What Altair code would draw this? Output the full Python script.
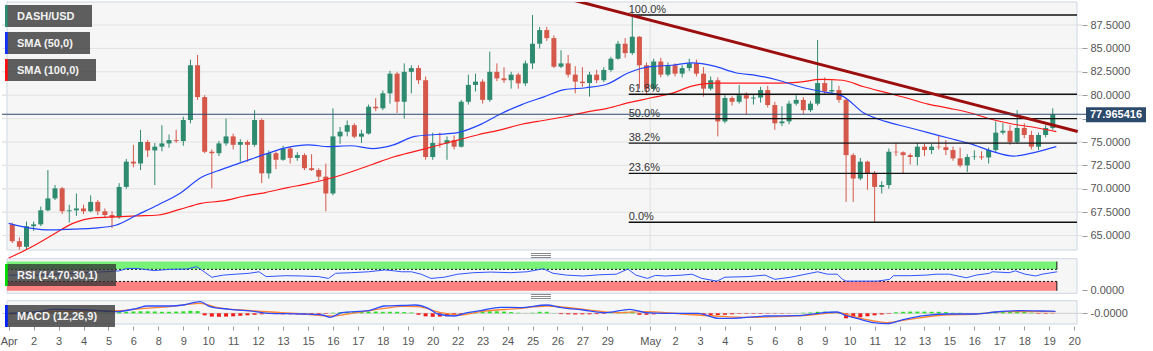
import altair as alt
import pandas as pd

# ---------------- data ----------------
first_open = 66.2
bar_hours = 8  # one candle every 8 hours, hours counted from Apr 1 00:00

close = [64.4, 63.8, 66.0, 66.2, 67.7, 68.97, 70.05, 67.6, 67.7, 67.9,
         67.6, 68.6, 67.6, 67.2, 66.95, 70.2, 72.9, 72.7, 75.0, 74.1,
         74.5, 74.85, 75.2, 75.1, 77.35, 83.2, 79.8, 73.96, 73.8, 74.85,
         75.6, 74.7, 75.0, 74.7, 77.35, 71.65, 73.8, 73.1, 74.3, 73.3,
         73.6, 72.2, 72.0, 71.3, 69.5, 75.6, 76.1, 76.8, 75.57, 75.9,
         78.77, 78.6, 80.2, 82.3, 79.3, 82.5, 82.9, 81.6, 73.4, 74.9,
         74.85, 75.2, 74.5, 79.3, 81.1, 81.45, 79.5, 82.5, 81.8, 81.6,
         82.2, 81.27, 83.4, 85.5, 86.96, 86.1, 83.05, 83.4, 82.2, 81.45,
         81.3, 82.2, 81.6, 82.7, 83.9, 85.5, 84.5, 86.25, 83.2, 80.7,
         83.6, 82.2, 83.2, 82.3, 82.9, 83.4, 82.3, 80.7, 81.6, 77.2,
         79.7, 79.3, 80.0, 79.65, 79.75, 80.55, 78.95, 77.0, 77.2, 79.1,
         79.5, 78.4, 79.1, 81.3, 80.4, 80.55, 79.5, 73.6, 71.1, 72.9,
         71.65, 70.2, 70.4, 73.96, 73.9, 73.6, 73.4, 74.5, 74.14, 74.5,
         74.45, 74.14, 73.25, 72.5, 73.4, 73.45, 73.35, 74.14, 76.0, 76.2,
         75.0, 76.5, 75.75, 74.5, 75.75, 76.5, 77.97]

high = [66.4, 64.8, 66.5, 66.5, 68.1, 72.0, 70.4, 70.2, 68.3, 69.5,
        68.3, 69.3, 68.8, 67.9, 67.6, 70.6, 73.2, 74.7, 76.3, 75.2,
        74.9, 76.8, 75.8, 76.3, 77.7, 83.8, 84.3, 80.0, 74.2, 75.1,
        77.5, 75.9, 75.3, 75.2, 78.4, 77.5, 74.1, 74.0, 74.6, 74.5,
        73.9, 73.8, 73.7, 72.2, 72.7, 78.6, 76.6, 77.3, 77.0, 76.3,
        79.0, 79.7, 80.5, 82.6, 82.5, 83.4, 83.2, 83.2, 82.0, 76.0,
        76.0, 75.6, 75.7, 79.5, 82.2, 82.3, 81.7, 84.65, 83.4, 83.0,
        82.5, 82.4, 83.7, 88.57, 87.3, 87.3, 86.4, 84.8, 84.3, 83.1,
        83.0, 82.5, 82.7, 83.0, 84.1, 85.8, 86.1, 88.75, 86.3, 83.5,
        83.9, 84.0, 83.5, 83.4, 83.2, 83.9, 83.8, 83.0, 82.0, 81.9,
        80.0, 79.9, 81.1, 80.3, 80.1, 80.9, 81.0, 79.3, 78.8, 79.4,
        80.0, 79.8, 79.4, 85.9, 81.9, 81.6, 81.0, 79.7, 73.8, 73.3,
        73.0, 71.9, 70.8, 74.3, 74.9, 74.0, 73.8, 74.9, 74.8, 74.8,
        75.75, 75.2, 74.5, 74.4, 73.7, 74.1, 74.0, 74.4, 77.2, 77.0,
        76.8, 78.4, 77.0, 76.2, 76.0, 76.8, 78.6]

low = [64.2, 63.5, 63.5, 65.5, 66.0, 67.6, 68.8, 67.3, 66.4, 67.1,
       67.3, 67.5, 67.2, 66.9, 65.8, 66.8, 70.0, 72.3, 72.0, 73.4,
       70.4, 74.0, 74.4, 74.9, 74.6, 77.0, 79.5, 73.8, 70.05, 73.5,
       74.6, 74.2, 72.9, 72.9, 74.5, 70.6, 71.1, 72.1, 73.0, 72.7,
       73.0, 72.0, 71.9, 70.9, 67.6, 69.3, 74.8, 75.6, 75.4, 74.9,
       75.8, 78.3, 78.4, 79.1, 78.1, 77.5, 80.2, 81.2, 73.1, 73.1,
       74.4, 73.1, 74.2, 74.4, 79.0, 80.4, 79.1, 79.3, 81.5, 81.3,
       80.7, 80.7, 81.0, 82.8, 85.0, 85.8, 82.9, 82.9, 81.9, 80.2,
       80.9, 79.85, 81.3, 81.4, 82.5, 83.8, 84.0, 84.3, 80.7, 80.0,
       80.5, 81.9, 82.0, 82.0, 81.9, 82.6, 82.0, 79.85, 80.5, 75.6,
       77.0, 78.9, 79.1, 77.9, 79.0, 79.2, 78.7, 76.3, 76.7, 76.9,
       78.9, 78.0, 78.2, 78.9, 80.1, 80.2, 79.2, 68.6, 68.6, 70.9,
       69.9, 66.35, 69.5, 70.0, 73.5, 71.65, 72.6, 72.5, 73.5, 73.7,
       74.2, 73.6, 73.0, 72.3, 71.8, 73.1, 73.1, 72.7, 73.9, 75.8,
       74.7, 74.8, 75.4, 74.2, 74.14, 75.5, 76.3]

# moving averages, one reading per day (day 0 = Apr 1)
sma50 = [66.3, 65.8, 65.6, 65.7, 65.8, 66.1, 67.2, 68.3, 69.5, 71.2,
         72.1, 72.9, 73.7, 74.4, 74.7, 74.5, 74.6, 74.3, 74.7, 75.6,
         75.8, 76.0, 76.8, 78.0, 79.0, 79.8, 80.6, 80.8, 81.2, 82.4,
         83.05, 83.2, 83.45, 83.1, 82.4, 82.1, 81.6, 80.9, 80.4, 79.9,
         78.1, 77.2, 76.6, 76.0, 75.4, 74.8, 74.0, 73.5, 73.9, 74.5]
sma100 = [62.6, 63.7, 65.0, 66.3, 66.9, 67.0, 67.1, 67.2, 67.8, 68.45,
          68.7, 69.2, 69.6, 70.1, 70.55, 71.1, 71.8, 72.6, 73.4, 74.0,
          74.6, 75.2, 75.8, 76.3, 76.9, 77.3, 77.7, 78.2, 78.6, 79.2,
          79.7, 80.2, 81.0, 81.3, 81.3, 81.3, 81.3, 81.4, 81.7, 81.6,
          80.9, 80.3, 79.7, 79.05, 78.6, 78.1, 77.4, 76.9, 76.55, 76.1]

rsi_t = [0, 33, 70, 107, 124, 133, 144, 163, 181, 200, 211, 218, 228, 241, 255, 270,
         281, 289, 311, 330, 348, 359, 367, 385, 404, 422, 433, 441, 452, 463, 474, 489,
         504, 522, 541, 563, 582, 600, 611, 626, 645, 663, 682, 695, 704, 717, 726, 737,
         756, 767, 778, 795, 804, 830, 849, 860, 878, 908, 919, 930, 936, 940, 956, 975,
         989, 993, 1012, 1030, 1041, 1056, 1075, 1086, 1101, 1104, 1123, 1130, 1141,
         1153, 1160, 1177]
rsi_v = [51, 51, 57, 62, 65, 73, 73, 66, 70, 71, 79, 65, 44, 51, 54, 57,
         62, 46, 49, 48, 46, 40, 57, 59, 62, 68, 65, 62, 62, 54, 40, 44,
         54, 59, 61, 59, 62, 72, 57, 51, 48, 52, 54, 71, 51, 40, 50, 48,
         51, 54, 40, 31, 44, 46, 51, 37, 44, 62, 54, 54, 37, 31, 31, 31,
         37, 49, 49, 51, 54, 54, 42, 51, 57, 62, 59, 65, 54, 48, 54, 62]

macd_t = [0, 33, 51, 89, 122, 144, 155, 181, 196, 215, 226, 248, 277, 292, 330, 352,
          361, 374, 404, 422, 441, 456, 471, 482, 500, 515, 530, 552, 574, 604, 619,
          645, 671, 697, 715, 737, 774, 797, 811, 849, 886, 908, 930, 938, 952, 971,
          986, 1004, 1030, 1056, 1086, 1108, 1138, 1160, 1175]
macd_v = [0.0, 0.17, 0.40, 0.33, 0.17, 0.50, 0.73, 0.73, 0.83, 1.17, 0.67, 0.40, 0.17,
          0.0, -0.07, -0.17, -0.40, 0.07, 0.27, 0.73, 0.78, 0.83, 0.50, -0.07, -0.27,
          0.07, 0.27, 0.60, 0.57, 0.83, 0.60, 0.33, 0.07, 0.40, 0.07, 0.0, 0.0, -0.50,
          -0.50, -0.27, -0.23, 0.0, 0.13, -0.17, -0.50, -0.93, -1.03, -0.63, -0.20,
          -0.07, -0.07, 0.13, 0.27, 0.23, 0.20]
sig_t = [0, 51, 122, 152, 181, 215, 233, 277, 330, 363, 385, 422, 441, 459, 485, 507,
         530, 571, 604, 645, 682, 715, 756, 793, 830, 863, 900, 930, 956, 986, 1011,
         1049, 1086, 1116, 1145, 1175]
sig_v = [-0.07, 0.17, 0.27, 0.50, 0.67, 1.00, 0.60, 0.23, -0.07, -0.27, 0.0, 0.50,
         0.70, 0.67, 0.07, -0.17, 0.17, 0.47, 0.73, 0.40, 0.07, 0.17, -0.07, -0.27,
         -0.40, -0.33, -0.17, 0.07, -0.50, -0.93, -0.60, -0.17, -0.07, 0.17, 0.17, 0.17]
hist = [0.05, 0.05, 0.08, 0.1, 0.1, 0.08, 0.05, 0.02, -0.04, -0.05, -0.03, 0.02, 0.05, 0.04, 0.02,
        0.12, 0.15, 0.18, 0.2, 0.2, 0.18, 0.15, 0.15, 0.17, 0.2, 0.25, 0.22,
        -0.2, -0.33, -0.35, -0.33, -0.3, -0.25, -0.2, -0.15, -0.1,
        -0.05, -0.08, -0.1, -0.1, -0.12, -0.12, -0.1, -0.08, -0.05,
        0.05, 0.1, 0.15, 0.17, 0.17, 0.17, 0.17, 0.15, 0.15, 0.15, 0.12, 0.08,
        -0.15, -0.3, -0.35, -0.33, -0.3, -0.2, -0.1,
        0.1, 0.15, 0.2, 0.2, 0.2, 0.17, 0.12,
        0.05, 0.02, 0.05,
        0.15, 0.15,
        0.02,
        -0.08, -0.1, -0.12, -0.1, -0.1, -0.08, -0.05,
        0.03,
        0.12, 0.15, 0.15,
        -0.15, -0.15, -0.1,
        -0.03, 0.03, 0.03, 0.01, -0.03,
        -0.1, -0.15, -0.17, -0.17, -0.15, -0.1,
        -0.05, -0.05, -0.05, -0.05, -0.04, -0.03, -0.03,
        -0.02, 0.02, 0.05, 0.08,
        0.15, 0.17, 0.15, 0.1,
        -0.5, -0.45, -0.4, -0.3, -0.2, -0.12, -0.05,
        0.1, 0.15, 0.17, 0.17, 0.17, 0.15, 0.15, 0.12,
        0.05, 0.05, 0.03, 0.03, 0.05,
        0.12, 0.15, 0.17, 0.15, 0.15, 0.12,
        0.05,
        -0.05, -0.05, -0.03]

fib_labels = ["100.0%", "61.8%", "50.0%", "38.2%", "23.6%", "0.0%"]
fib_values = [88.57, 80.11, 77.50, 74.88, 71.65, 66.42]
fib_start_h = 696

trend_h = [624, 1200]
trend_v = [90.40, 76.12]

last_price = 77.965416
price_ticks = [65.0, 67.5, 70.0, 72.5, 75.0, 77.5, 80.0, 82.5, 85.0, 87.5]

apr_labels = ["Apr", "2", "3", "4", "5", "6", "8", "9", "10", "11", "12", "13", "15",
              "16", "17", "18", "19", "20", "22", "23", "24", "25", "26", "27", "29"]
may_labels = ["May", "2", "3", "4", "5", "6", "8", "9", "10", "11", "12", "13", "15",
              "16", "17", "18", "19", "20"]
legend_main = [("DASH/USD", "#2f8b70", 3, 87), ("SMA (50,0)", "#1030ff", 30, 85),
               ("SMA (100,0)", "#ff1010", 57, 91)]
rsi_name = "RSI (14,70,30,1)"
macd_name = "MACD (12,26,9)"
rsi_end_h = 1176.6

# ---------------- styling ----------------
FONT = "Liberation Sans"
UP, DOWN = "#2f8b70", "#d6584a"
PANEL, BORDER, GRID, VGRID = "#f6f6f6", "#cdd5e3", "#e2e2e2", "#dedede"
NAVY = "#2c4a6c"
W, H = 1080, 322

X_DOM = [-1.9, 1199.2]
MAIN_DOM = [63.46, 89.96]
RSI_DOM = [-9.3, 105.3]
MACD_DOM = [-1.07, 1.26]

xs = alt.Scale(domain=X_DOM, nice=False, zero=False)
ys_main = alt.Scale(domain=MAIN_DOM, range=[248, 0], nice=False, zero=False)
ys_rsi = alt.Scale(domain=RSI_DOM, range=[291.3, 256.7], nice=False, zero=False)
ys_macd = alt.Scale(domain=MACD_DOM, range=[322, 298.7], nice=False, zero=False)


def X(f):
    return alt.X(f"{f}:Q", scale=xs)


def Y(f, sc):
    return alt.Y(f"{f}:Q", scale=sc)


def frame(dom):
    return pd.DataFrame({"x1": [X_DOM[0]], "x2": [X_DOM[1]], "y1": [dom[0]], "y2": [dom[1]]})


def legend_box(label, col, y0, w):
    d = pd.DataFrame({"lab": [label]})
    box = alt.Chart(d).mark_rect(fill="#333333", fillOpacity=0.78).encode(
        x=alt.value(3), x2=alt.value(3 + w), y=alt.value(y0), y2=alt.value(y0 + 22))
    stripe = alt.Chart(d).mark_rect(fill=col).encode(
        x=alt.value(3), x2=alt.value(5.7), y=alt.value(y0), y2=alt.value(y0 + 22))
    txt = alt.Chart(d).mark_text(align="left", baseline="middle", color="#f2f2f2",
                                 fontWeight="bold", fontSize=11, font=FONT).encode(
        x=alt.value(15), y=alt.value(y0 + 11.5), text="lab:N")
    return [box, stripe, txt]


# candles
t_c = [bar_hours * k + bar_hours / 2 for k in range(len(close))]
opens = [first_open] + close[:-1]
candles = pd.DataFrame({"t": t_c, "o": opens, "c": close, "h": high, "l": low})
candles["h"] = candles[["h", "o", "c"]].max(axis=1)
candles["l"] = candles[["l", "o", "c"]].min(axis=1)
ccol = alt.condition("datum.c >= datum.o", alt.value(UP), alt.value(DOWN))

sma = pd.DataFrame({"t": [24 * d for d in range(len(sma50))], "s50": sma50, "s100": sma100})
fib = pd.DataFrame({"v": fib_values, "lab": fib_labels, "t0": fib_start_h, "t1": X_DOM[1]})
trend = pd.DataFrame({"t": trend_h, "v": trend_v})
price = pd.DataFrame({"p": [last_price], "lab": [f"{last_price:.6f}"]})
may = pd.DataFrame({"t": [720]})

axis_common = dict(title=None, domain=False, grid=False, tickColor="#9a9a9a",
                   labelColor="#555555", labelFontSize=11, labelFont=FONT,
                   labelOverlap=False, labelFlush=False, tickCount=200)
main_axis = alt.Axis(orient="right", values=price_ticks, format=".4f", tickSize=5,
                     labelPadding=3, **axis_common)

main_layers = [
    alt.Chart(pd.DataFrame({"v": price_ticks})).mark_rule(color=GRID, strokeWidth=1).encode(
        y=alt.Y("v:Q", scale=ys_main, axis=main_axis), x=alt.value(0), x2=alt.value(W)),
    alt.Chart(frame(MAIN_DOM)).mark_rect(fill=PANEL, stroke=BORDER, strokeWidth=1).encode(
        x=X("x1"), x2="x2:Q", y=Y("y1", ys_main), y2="y2:Q"),
    alt.Chart(pd.DataFrame({"v": price_ticks})).mark_rule(color=GRID, strokeWidth=1).encode(
        y=Y("v", ys_main), x=alt.value(0), x2=alt.value(W)),
    alt.Chart(may).mark_rule(color=VGRID).encode(x=X("t"), y=alt.value(0), y2=alt.value(248)),
    alt.Chart(candles).mark_rule(strokeWidth=1).encode(
        x=X("t"), y=Y("l", ys_main), y2="h:Q", color=ccol),
    alt.Chart(candles).mark_bar(size=5).encode(
        x=X("t"), y=Y("o", ys_main), y2="c:Q", color=ccol),
    alt.Chart(sma).mark_line(color="#ff1a1a", strokeWidth=1.2, interpolate="monotone",
                             clip=True).encode(x=X("t"), y=Y("s100", ys_main)),
    alt.Chart(sma).mark_line(color="#2244ff", strokeWidth=1.2, interpolate="monotone",
                             clip=True).encode(x=X("t"), y=Y("s50", ys_main)),
    alt.Chart(fib).mark_rule(color="#111111", strokeWidth=1.4).encode(
        x=X("t0"), x2="t1:Q", y=Y("v", ys_main)),
    alt.Chart(fib).mark_text(align="left", baseline="alphabetic", dy=-2, fontSize=11,
                             color="#333333", font=FONT).encode(
        x=X("t0"), y=Y("v", ys_main), text="lab:N"),
    alt.Chart(trend).mark_line(color="#9c0e0e", strokeWidth=3, clip=True).encode(
        x=X("t"), y=Y("v", ys_main)),
    alt.Chart(price).mark_rule(color=NAVY, strokeWidth=1).encode(
        y=Y("p", ys_main), x=alt.value(0), x2=alt.value(1084)),
    alt.Chart(price).mark_rect(color=NAVY, yOffset=8, y2Offset=-7).encode(
        x=alt.value(1084), x2=alt.value(1144), y=Y("p", ys_main), y2=alt.Y2("p:Q")),
    alt.Chart(price).mark_text(color="white", fontWeight="bold", fontSize=11, font=FONT,
                               align="center", baseline="middle", dy=0.5).encode(
        x=alt.value(1114), y=Y("p", ys_main), text="lab:N"),
]
for lab, col, y0, w in legend_main:
    main_layers += legend_box(lab, col, y0, w)
for yy in [251.5, 253.5, 255.5, 292.5, 294.5, 296.5]:
    main_layers.append(alt.Chart(may).mark_rule(color="#8a8a8a", strokeWidth=1).encode(
        x=alt.value(529), x2=alt.value(549), y=alt.value(yy)))

# RSI panel
rsi_axis = alt.Axis(orient="right", values=[0], format=".4f", tickSize=5, labelPadding=3,
                    **axis_common)
bands = pd.DataFrame({"y1": [70, -1], "y2": [96, 30], "col": ["#78f378", "#ff8080"],
                      "x1": [X_DOM[0]] * 2, "x2": [rsi_end_h] * 2})
levels = pd.DataFrame({"v": [70, 30], "x1": [X_DOM[0]] * 2, "x2": [rsi_end_h] * 2})
rsi_df = pd.DataFrame({"t": rsi_t, "v": rsi_v})
rsi_layers = [
    alt.Chart(frame(RSI_DOM)).mark_rect(fill=PANEL, stroke=BORDER, strokeWidth=1).encode(
        x=X("x1"), x2="x2:Q", y=alt.Y("y1:Q", scale=ys_rsi, axis=rsi_axis), y2="y2:Q"),
    alt.Chart(may).mark_rule(color=VGRID).encode(x=X("t"), y=alt.value(256.7), y2=alt.value(291.3)),
    alt.Chart(bands).mark_rect().encode(x=X("x1"), x2="x2:Q", y=Y("y1", ys_rsi), y2="y2:Q",
                                        color=alt.Color("col:N", scale=None)),
    alt.Chart(bands).mark_rule(color="#111111", strokeWidth=1).encode(
        x=X("x2"), y=Y("y1", ys_rsi), y2="y2:Q"),
    alt.Chart(levels).mark_rule(color="#111111", strokeWidth=1, strokeDash=[2, 2]).encode(
        x=X("x1"), x2="x2:Q", y=Y("v", ys_rsi)),
    alt.Chart(rsi_df).mark_line(color="#2f54ff", strokeWidth=1).encode(
        x=X("t"), y=Y("v", ys_rsi)),
]
rsi_layers += legend_box(rsi_name, "#00e000", 262, 111)

# MACD panel
x_vals = [28 * k for k in range(len(apr_labels))] + [720 + 28 * k for k in range(len(may_labels))]
x_labs = apr_labels + may_labels
label_expr = ("[" + ",".join(f"'{s}'" for s in x_labs) + "][indexof(["
              + ",".join(str(v) for v in x_vals) + "], datum.value)]")
x_axis = alt.Axis(values=x_vals, labelExpr=label_expr, tickSize=4, offset=2, labelPadding=5,
                  orient="bottom", **axis_common)
macd_axis = alt.Axis(orient="right", values=[0], labelExpr="'-0.0000'", tickSize=5,
                     labelPadding=3, **axis_common)
hist_df = pd.DataFrame({"t": [bar_hours * k + bar_hours / 2 for k in range(len(hist))],
                        "h": hist, "z": 0.0})
macd_df = pd.DataFrame({"t": macd_t, "v": macd_v})
sig_df = pd.DataFrame({"t": sig_t, "v": sig_v})
macd_layers = [
    alt.Chart(frame(MACD_DOM)).mark_rect(fill=PANEL, stroke=BORDER, strokeWidth=1).encode(
        x=alt.X("x1:Q", scale=xs, axis=x_axis), x2="x2:Q",
        y=alt.Y("y1:Q", scale=ys_macd, axis=macd_axis), y2="y2:Q"),
    alt.Chart(may).mark_rule(color=VGRID).encode(x=X("t"), y=alt.value(298.7), y2=alt.value(322)),
    alt.Chart(pd.DataFrame({"v": [0.0]})).mark_rule(color="#cfcfcf").encode(
        y=Y("v", ys_macd), x=alt.value(0), x2=alt.value(W)),
    alt.Chart(hist_df).mark_bar(size=4).encode(
        x=X("t"), y=Y("z", ys_macd), y2="h:Q",
        color=alt.condition("datum.h >= 0", alt.value("#2ee02e"), alt.value("#ee1c1c"))),
    alt.Chart(sig_df).mark_line(color="#ff8433", strokeWidth=1.3, interpolate="monotone").encode(
        x=X("t"), y=Y("v", ys_macd)),
    alt.Chart(macd_df).mark_line(color="#2b4cff", strokeWidth=1.3, interpolate="monotone").encode(
        x=X("t"), y=Y("v", ys_macd)),
]
macd_layers += legend_box(macd_name, "#0022ff", 303, 110)

chart = alt.layer(
    alt.layer(*macd_layers), alt.layer(*rsi_layers), alt.layer(*main_layers)
).resolve_scale(y="independent").properties(
    width=W, height=H,
    autosize=alt.AutoSizeParams(type="none"),
    padding={"left": 2, "top": 2, "right": 71, "bottom": 27},
).configure(font=FONT, background="white").configure_view(stroke=None).configure_axis(
    labelOverlap=False, labelFlush=False, labelBound=False)

chart.save("out.html", embed_options={"renderer": "svg", "actions": False})
